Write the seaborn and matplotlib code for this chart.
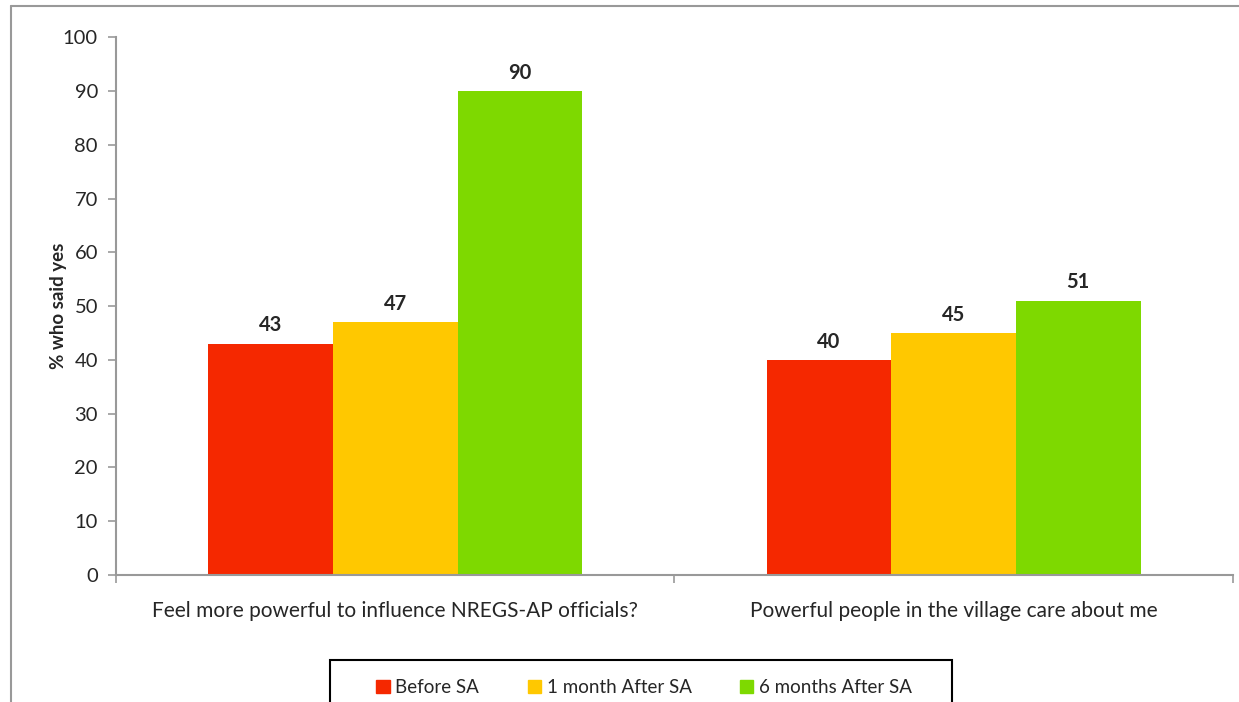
import numpy as np
import pandas as pd
import seaborn as sns
import matplotlib.pyplot as plt
from matplotlib.patches import Rectangle

questions = ['Feel more powerful to influence NREGS-AP officials?',
             'Powerful people in the village care about me']
periods = ['Before SA', '1 month After SA', '6 months After SA']
before_sa = [43, 40]
one_month = [47, 45]
six_months = [90, 51]
colors = ['#F52800', '#FFC800', '#7ED900']

df = pd.DataFrame({
    'question': questions * 3,
    'period': np.repeat(periods, 2),
    'value': before_sa + one_month + six_months,
})

sns.set_theme(style='white')
plt.rcParams['font.family'] = ['Lato', 'DejaVu Sans']

fig = plt.figure(figsize=(12.39, 7.02), dpi=100)
ax = fig.add_axes([0.0936, 0.181, 0.9014, 0.766])

sns.barplot(data=df, x='question', y='value', hue='period', hue_order=periods,
            palette=colors, width=0.67, gap=0, saturation=1, ax=ax,
            edgecolor='none', linewidth=0)

for cont in ax.containers:
    ax.bar_label(cont, fmt='%d', padding=6, fontsize=14.5, fontweight='bold')

ax.set_xlim(-0.5, 1.5)
ax.set_ylim(0, 100)
ax.set_yticks(range(0, 101, 10))
ax.tick_params(axis='y', labelsize=14.5, length=6, width=1.2, color='#999999',
               left=True, pad=7)
ax.set_xticks([0, 1])
ax.set_xticklabels(questions)
ax.tick_params(axis='x', labelsize=15, length=0, pad=19)
ax.set_xticks([-0.5, 0.5, 1.5], minor=True)
ax.tick_params(axis='x', which='minor', length=6, width=1.2, color='#999999',
               bottom=True)
ax.set_xlabel('')
ax.set_ylabel('% who said yes', fontsize=13.5, fontweight='bold', labelpad=-3)

for side in ['top', 'right']:
    ax.spines[side].set_visible(False)
for side in ['left', 'bottom']:
    ax.spines[side].set_color('#999999')
    ax.spines[side].set_linewidth(1.5)

ax.get_legend().remove()
handles = [Rectangle((0, 0), 1, 1, color=c) for c in colors]
leg = fig.legend(handles, periods, loc='center', ncol=3,
                 bbox_to_anchor=(0.52, 0.021), fontsize=13.5, frameon=False,
                 handlelength=0.7, handleheight=0.7, handletextpad=0.3,
                 columnspacing=2.6)

# legend frame, cut off by the bottom edge
fig.add_artist(Rectangle((330 / 1239, -0.05), 622 / 1239, 0.05 + 42 / 702,
                         transform=fig.transFigure, fill=False,
                         edgecolor='black', lw=1.5))

# outer chart frame (top and left edges visible)
fig.add_artist(plt.Line2D([0.009, 1.0], [0.991, 0.991], color='#999999',
                          lw=1.5, transform=fig.transFigure))
fig.add_artist(plt.Line2D([0.009, 0.009], [0.0, 0.991], color='#999999',
                          lw=1.5, transform=fig.transFigure))

fig.savefig('out.png', dpi=100)
